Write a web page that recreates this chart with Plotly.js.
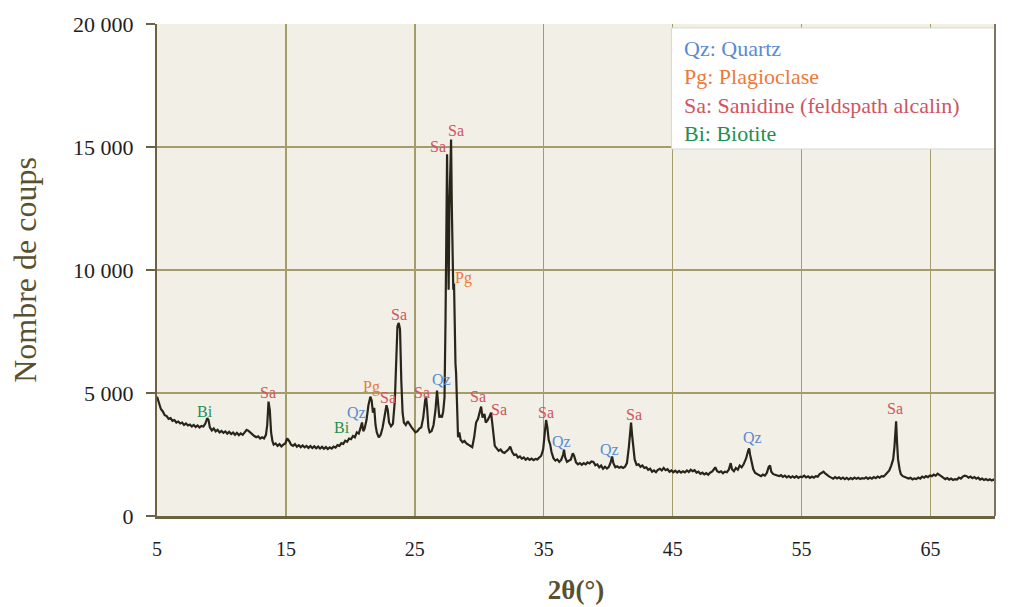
<!DOCTYPE html>
<html>
<head>
<meta charset="utf-8">
<script src="https://cdn.plot.ly/plotly-3.0.1.min.js"></script>
<style>html,body{margin:0;padding:0;background:#fff;}#chart{width:1014px;height:607px;}</style>
</head>
<body>
<div id="chart"></div>
<script>
// 2θ (°) positions
const twoTheta = [
5.0,5.1,5.2,5.3,5.45,5.6,5.75,5.9,6.05,6.2,6.35,6.5,6.65,6.8,6.95,7.1,7.25,7.4,7.55,7.7,7.85,8.0,8.15,8.3,8.45,8.6,8.75,8.9,9.0,9.1,
9.25,9.4,9.55,9.7,9.85,10.0,10.15,10.3,10.45,10.6,10.75,10.9,11.05,11.2,11.35,11.5,11.65,11.8,11.95,12.1,12.25,12.4,12.55,12.7,12.85,13.0,13.15,13.3,13.45,13.55,
13.65,13.75,13.85,13.95,14.05,14.2,14.35,14.5,14.65,14.8,14.95,15.1,15.25,15.4,15.55,15.7,15.85,16.0,16.15,16.3,16.45,16.6,16.75,16.9,17.05,17.2,17.35,17.5,17.65,17.8,
17.95,18.1,18.25,18.4,18.55,18.7,18.85,19.0,19.15,19.3,19.45,19.6,19.75,19.9,20.05,20.2,20.35,20.5,20.65,20.8,20.9,21.0,21.1,21.25,21.4,21.55,21.65,21.75,21.85,21.95,
22.05,22.2,22.35,22.5,22.65,22.8,22.9,23.0,23.15,23.3,23.45,23.55,23.65,23.75,23.85,23.95,24.05,24.15,24.3,24.45,24.6,24.75,24.9,25.05,25.2,25.35,25.5,25.65,25.8,25.87,
25.95,26.05,26.15,26.3,26.45,26.6,26.72,26.8,26.9,27.0,27.1,27.2,27.3,27.38,27.45,27.5,27.55,27.62,27.68,27.75,27.81,27.87,27.93,27.98,28.04,28.1,28.15,28.2,28.28,28.35,
28.45,28.55,28.7,28.85,29.0,29.15,29.3,29.45,29.6,29.75,29.9,30.0,30.14,30.25,30.4,30.5,30.65,30.8,30.91,31.0,31.1,31.2,31.35,31.5,31.65,31.8,31.95,32.1,32.25,32.4,
32.55,32.7,32.85,33.0,33.15,33.3,33.45,33.6,33.75,33.9,34.05,34.2,34.35,34.5,34.65,34.8,34.95,35.05,35.18,35.28,35.38,35.5,35.6,35.75,35.9,36.05,36.2,36.35,36.5,36.57,
36.65,36.8,36.95,37.1,37.25,37.35,37.5,37.65,37.8,37.95,38.1,38.25,38.4,38.55,38.7,38.85,39.0,39.15,39.3,39.45,39.6,39.75,39.9,40.05,40.2,40.3,40.4,40.55,40.7,40.85,
41.0,41.15,41.3,41.45,41.6,41.7,41.77,41.85,41.95,42.05,42.2,42.35,42.5,42.65,42.8,42.95,43.1,43.25,43.4,43.55,43.7,43.85,44.0,44.15,44.3,44.45,44.6,44.75,44.9,45.05,
45.2,45.35,45.5,45.65,45.8,45.95,46.1,46.25,46.4,46.55,46.7,46.85,47.0,47.15,47.3,47.45,47.6,47.75,47.9,48.05,48.2,48.3,48.45,48.6,48.75,48.9,49.05,49.2,49.35,49.5,
49.6,49.75,49.9,50.05,50.2,50.35,50.5,50.7,50.85,50.93,51.0,51.1,51.25,51.4,51.55,51.7,51.85,52.0,52.15,52.3,52.45,52.55,52.65,52.8,52.95,53.1,53.25,53.4,53.55,53.7,
53.85,54.0,54.15,54.3,54.45,54.6,54.75,54.9,55.05,55.2,55.35,55.5,55.65,55.8,55.95,56.1,56.25,56.4,56.55,56.7,56.85,57.0,57.15,57.3,57.45,57.6,57.75,57.9,58.05,58.2,
58.35,58.5,58.65,58.8,58.95,59.1,59.25,59.4,59.55,59.7,59.85,60.0,60.15,60.3,60.45,60.6,60.75,60.9,61.05,61.2,61.35,61.5,61.65,61.8,61.95,62.1,62.2,62.28,62.33,62.4,
62.48,62.6,62.7,62.85,63.0,63.15,63.3,63.45,63.6,63.75,63.9,64.05,64.2,64.35,64.5,64.65,64.8,64.95,65.1,65.25,65.4,65.55,65.7,65.85,66.0,66.15,66.3,66.45,66.6,66.75,
66.9,67.05,67.2,67.35,67.5,67.65,67.8,67.95,68.1,68.25,68.4,68.55,68.7,68.85,69.0,69.15,69.3,69.45,69.6,69.75,69.9,70.0
];
// Nombre de coups
const counts = [
4850,4650,4480,4350,4250,4100,4060,3950,3980,3870,3900,3800,3840,3760,3800,3700,3760,3680,3720,3640,3700,3620,3680,3600,3660,3640,3760,3980,3900,3600,
3480,3560,3440,3500,3400,3460,3380,3440,3350,3420,3330,3390,3300,3380,3290,3360,3300,3420,3500,3460,3380,3300,3250,3200,3240,3150,3200,3150,3300,3700,
4650,4300,3400,3050,2900,2950,2850,2920,2830,2900,2950,3150,3050,2900,2850,2920,2820,2880,2800,2870,2790,2850,2770,2840,2760,2830,2750,2820,2740,2810,
2730,2800,2720,2790,2740,2820,2780,2880,2850,2960,2930,3060,3020,3150,3120,3250,3200,3400,3350,3600,3800,3450,3550,3900,4500,4850,4700,4200,4400,3700,
3400,3200,3300,3600,4100,4500,4300,3800,3650,3750,4700,6300,7700,7850,7600,5500,4200,3800,3700,3850,3700,3600,3500,3400,3450,3550,3600,4000,4700,4850,
4400,3600,3400,3450,3700,4300,5100,4600,4000,4100,4000,4250,4800,8000,12500,14700,12000,9200,12500,14000,15300,12500,9500,9200,9450,7000,6200,5800,3800,3200,
3400,3100,3000,3050,2950,2900,2850,2800,3200,3800,3950,4200,4450,4000,4150,3800,3900,4050,4200,3800,3300,2850,2750,2650,2700,2600,2560,2620,2700,2820,
2600,2480,2500,2380,2420,2330,2380,2290,2350,2280,2330,2270,2320,2300,2380,2450,2700,3300,3900,3600,3100,2900,2600,2350,2250,2300,2200,2280,2500,2700,
2400,2200,2250,2300,2550,2450,2180,2100,2150,2080,2150,2100,2180,2140,2220,2200,2060,2100,1980,2050,1920,2000,1930,2000,2200,2420,2150,1980,2020,1960,
2000,1950,2000,2150,2800,3600,3800,3300,2700,2300,2080,2100,2000,2050,1950,1980,1880,1920,1800,1850,1780,1880,1920,1850,1950,1860,1900,1800,1850,1780,
1840,1770,1830,1760,1820,1770,1850,1790,1880,1820,1860,1760,1800,1710,1760,1690,1740,1680,1760,1800,1900,1980,1820,1780,1820,1740,1800,1780,1880,2150,
1900,1820,1950,1880,2050,1980,2100,2350,2650,2750,2500,2200,1900,1750,1700,1640,1620,1680,1640,1750,2000,2050,1800,1700,1680,1640,1620,1660,1590,1640,
1570,1620,1560,1610,1560,1620,1550,1600,1580,1640,1570,1610,1550,1600,1560,1620,1600,1700,1760,1800,1720,1650,1600,1560,1520,1580,1530,1570,1510,1560,
1500,1550,1490,1540,1500,1560,1510,1550,1500,1540,1520,1570,1510,1560,1520,1580,1540,1600,1560,1620,1600,1680,1750,1850,2050,2300,2800,3500,3850,3000,
2300,1900,1700,1620,1580,1560,1520,1550,1490,1530,1500,1560,1520,1600,1560,1620,1580,1650,1620,1680,1640,1720,1660,1600,1560,1500,1540,1480,1520,1460,
1500,1480,1560,1520,1600,1640,1620,1560,1600,1540,1580,1520,1560,1480,1520,1460,1500,1450,1490,1440,1480,1450
];
// Peak labels
const peakLabels = ['Bi','Sa','Bi','Qz','Pg','Sa','Sa','Sa','Qz','Sa','Sa','Pg','Sa','Sa','Sa','Qz','Qz','Sa','Qz','Sa'];
const peakX =      [8.72,13.6,19.35,20.44,21.6,22.9,23.77,25.55,27.1,26.8,28.2,28.8,29.9,31.53,35.18,36.34,40.07,42.0,51.16,62.25];
const peakY =      [4230,5040,3580,4190,5240,4800,8210,5040,5530,15040,15690,9670,4840,4310,4190,3010,2720,4110,3210,4390];
// Legend entries
const legendCodes = ['Qz','Pg','Sa','Bi'];
const legendNames = ['Quartz','Plagioclase','Sanidine (feldspath alcalin)','Biotite'];
const phaseColors = {Qz:'#5a8ad2', Pg:'#ec7a3a', Sa:'#cf5560', Bi:'#1f8f50'};
// Axis ticks
const xTickVals = [5,15,25,35,45,55,65];
const yTickVals = [0,5000,10000,15000,20000];
const yTickLabels = ['0','5 000','10 000','15 000','20 000'];

const serif = 'Liberation Serif, DejaVu Serif, serif';
const olive = '#58502f';

const annotations = peakLabels.map((t,i)=>({
  x: peakX[i], y: peakY[i], xref:'x', yref:'y', text: t, showarrow:false,
  font:{family:serif, size:16, color: phaseColors[t]}
}));
legendCodes.forEach((c,i)=>{
  annotations.push({
    xref:'paper', yref:'paper', x: 0.627, y: 0.951 - i*0.058, xanchor:'left', yanchor:'middle',
    text: c + ': ' + legendNames[i], showarrow:false,
    font:{family:serif, size:22, color: phaseColors[c]}
  });
});

const trace = {
  x: twoTheta, y: counts, type:'scatter', mode:'lines',
  line:{color:'#29251a', width:2.2}, hoverinfo:'skip', showlegend:false
};

const layout = {
  width:1014, height:607,
  margin:{l:157, r:19, t:24, b:91},
  paper_bgcolor:'#ffffff', plot_bgcolor:'#f2efe6',
  showlegend:false,
  xaxis:{
    range:[5,70], tickvals:xTickVals, showgrid:true, gridcolor:'#a59c6c', gridwidth:1.3,
    zeroline:false, showline:true, linecolor:'#6b6242', linewidth:3, mirror:false,
    ticks:'', tickfont:{family:serif, size:20, color:'#1e1e1e'}, ticklabelstandoff:13,
    title:{text:'<b>2θ(°)</b>', font:{family:serif, size:27, color:olive}, standoff:22}
  },
  yaxis:{
    range:[0,20000], tickvals:yTickVals, ticktext:yTickLabels, showgrid:true, gridcolor:'#a59c6c', gridwidth:1.3,
    zeroline:false, showline:true, linecolor:'#6b6242', linewidth:2,
    ticks:'outside', ticklen:9, tickcolor:'#6b6242', tickwidth:1.5,
    tickfont:{family:serif, size:22, color:'#1e1e1e'}, ticklabelstandoff:8,
    title:{text:'Nombre de coups', font:{family:serif, size:32, color:olive}, standoff:27}
  },
  shapes:[
    {type:'rect', xref:'paper', yref:'paper', x0:0.614, x1:1, y0:0.746, y1:0.992,
     fillcolor:'#ffffff', line:{color:'#d8d8d8', width:1}, layer:'above'},
    {type:'line', xref:'paper', yref:'paper', x0:1, x1:1, y0:0, y1:1,
     line:{color:'#7d7560', width:2}, layer:'above'}
  ],
  annotations: annotations
};

Plotly.newPlot('chart', [trace], layout, {displayModeBar:false, staticPlot:true});
</script>
</body>
</html>
